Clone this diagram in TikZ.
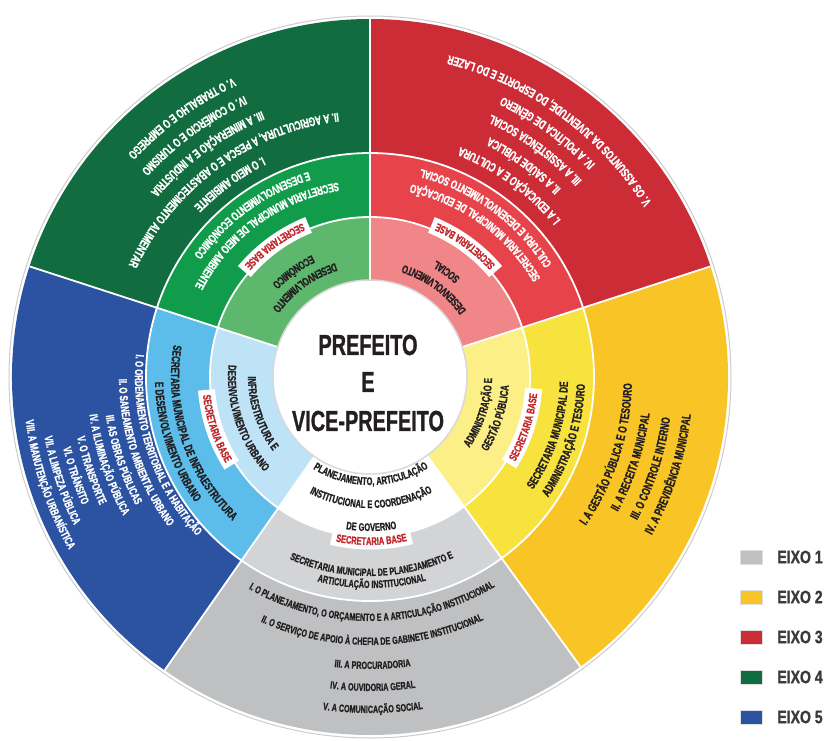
\documentclass[tikz,border=0pt]{standalone}
\usepackage{fontspec}
\usepackage{tikz}
\usetikzlibrary{decorations.text, positioning}
\newfontfamily\cond[FakeStretch=0.685, BoldFeatures={FakeBold=1}]{Liberation Sans}
\newfontfamily\condleg[FakeStretch=0.78, BoldFeatures={FakeBold=1}]{Liberation Sans}

\definecolor{cinzaA}{HTML}{BFC0C2}
\definecolor{cinzaB}{HTML}{D3D4D6}
\definecolor{amareloA}{HTML}{F9C526}
\definecolor{amareloB}{HTML}{F8E23E}
\definecolor{amareloC}{HTML}{FCEF86}
\definecolor{vermelhoA}{HTML}{CC2C36}
\definecolor{vermelhoB}{HTML}{E6434B}
\definecolor{vermelhoC}{HTML}{F08688}
\definecolor{verdeA}{HTML}{116C3F}
\definecolor{verdeB}{HTML}{119C4B}
\definecolor{verdeC}{HTML}{5DB86D}
\definecolor{azulA}{HTML}{2B53A2}
\definecolor{azulB}{HTML}{5CBDEA}
\definecolor{azulC}{HTML}{BEE3F7}
\definecolor{vermelhobase}{HTML}{C1272D}
\definecolor{preto}{HTML}{231F20}
\definecolor{cinzatexto}{HTML}{3A3A3A}

% fatia: cor, angulo inicial, angulo final, raio
\newcommand{\fatia}[4]{\fill[#1] (0,0) -- (#2:#4) arc[start angle=#2, end angle=#3, radius=#4] -- cycle;}
% texto curvo: angulo central, raio, tamanho, cor, texto
\newcommand{\textoarco}[5]{\path[decorate, decoration={text along path, text align=center, text color=#4,
    text={|\cond\bfseries\fontsize{#3}{#3}\selectfont|#5}}] (#1-89:#2) arc[start angle=#1-89, end angle=#1+89, radius=#2];}
% rotulo branco da secretaria base
\newcommand{\rotulobase}[1]{\draw[white, line width=17pt] (#1-14:164) arc[start angle=#1-14, end angle=#1+14, radius=164];
  \textoarco{#1}{168}{11}{vermelhobase}{SECRETARIA BASE}}

\tikzset{
  titulo/.style={font=\cond\bfseries\fontsize{29}{29}\selectfont, text=preto, inner sep=0},
  legcaixa/.style={minimum width=22pt, minimum height=14pt, inner sep=0, draw=black!12},
  legtexto/.style={font=\condleg\bfseries\fontsize{18}{18}\selectfont, text=cinzatexto, inner sep=0}
}

\begin{document}
\begin{tikzpicture}[x=1pt, y=1pt]
  \useasboundingbox (-370,-363) rectangle (458,377);

  % eixos (anel externo)
  \fatia{verdeA}{90}{162}{358}
  \fatia{vermelhoA}{18}{90}{358}
  \fatia{amareloA}{-54}{18}{358}
  \fatia{cinzaA}{-125}{-54}{358}
  \fatia{azulA}{162}{235}{358}
  % secretarias
  \fatia{verdeB}{90}{162}{224}
  \fatia{vermelhoB}{18}{90}{224}
  \fatia{amareloB}{-54}{18}{224}
  \fatia{cinzaB}{-125}{-54}{224}
  \fatia{azulB}{162}{235}{224}
  % areas
  \fatia{verdeC}{90}{162}{160}
  \fatia{vermelhoC}{18}{90}{160}
  \fatia{amareloC}{-54}{18}{160}
  \fatia{white}{-125}{-54}{160}
  \fatia{azulC}{162}{235}{160}

  % divisoes brancas
  \draw[white, line width=1.8pt] (90:97) -- (90:358);
  \draw[white, line width=1.8pt] (18:97) -- (18:358);
  \draw[white, line width=1.8pt] (-54:97) -- (-54:358);
  \draw[white, line width=1.8pt] (-125:97) -- (-125:358);
  \draw[white, line width=1.8pt] (162:97) -- (162:358);
  \draw[white, line width=1.8pt] (0,0) circle[radius=160];
  \draw[white, line width=1.8pt] (0,0) circle[radius=224];
  \draw[gray!40, line width=1pt] (0,0) circle[radius=361];

  % centro
  \node[circle, fill=white, draw=gray!30, line width=1.5pt, minimum size=194pt, inner sep=0] (centro) at (0,0) {};
  \node[titulo] (prefeito) at (-2,32) {PREFEITO};
  \node[titulo] (e) at (-2,-5) {E};
  \node[titulo] (vice) at (-2,-44) {VICE-PREFEITO};

  % rotulos
  \rotulobase{126}
  \rotulobase{54}
  \rotulobase{-18}
  \rotulobase{-89.5}
  \rotulobase{198.5}

  % eixo 4 - verde
  \textoarco{126}{119}{11.5}{preto}{DESENVOLVIMENTO}
  \textoarco{126}{135}{11.5}{preto}{ECONÔMICO}
  \textoarco{126}{197}{12}{white}{SECRETARIA MUNICIPAL DE MEIO AMBIENTE}
  \textoarco{126}{214}{12}{white}{E DESENVOLVIMENTO ECONÔMICO}
  \textoarco{126}{245}{12.5}{white}{I. O MEIO AMBIENTE}
  \textoarco{126}{266}{12.5}{white}{II. A AGRICULTURA, A PESCA E O ABASTECIMENTO ALIMENTAR}
  \textoarco{126}{287}{12.5}{white}{III. A MINERAÇÃO E A INDÚSTRIA}
  \textoarco{126}{308}{12.5}{white}{IV. O COMÉRCIO E O TURISMO}
  \textoarco{126}{329}{12.5}{white}{V. O TRABALHO E O EMPREGO}

  % eixo 3 - vermelho
  \textoarco{54}{117}{11.5}{preto}{DESENVOLVIMENTO}
  \textoarco{54}{134}{11.5}{preto}{SOCIAL}
  \textoarco{54}{197}{12}{white}{SECRETARIA MUNICIPAL DE EDUCAÇÃO}
  \textoarco{54}{214}{12}{white}{CULTURA E DESENVOLVIMENTO SOCIAL}
  \textoarco{54}{247}{12.5}{white}{I. A EDUCAÇÃO E A CULTURA}
  \textoarco{54}{268}{12.5}{white}{II. A SAÚDE PÚBLICA}
  \textoarco{54}{289}{12.5}{white}{III. A ASSISTÊNCIA SOCIAL}
  \textoarco{54}{310}{12.5}{white}{IV. A POLÍTICA DE GÊNERO}
  \textoarco{54}{331}{12.5}{white}{V. OS ASSUNTOS DA JUVENTUDE, DO ESPORTE E DO LAZER}

  % eixo 2 - amarelo
  \textoarco{-18}{122}{11.5}{preto}{ADMINISTRAÇÃO E}
  \textoarco{-18}{139}{11.5}{preto}{GESTÃO PÚBLICA}
  \textoarco{-18}{198}{12}{preto}{SECRETARIA MUNICIPAL DE}
  \textoarco{-18}{215}{12}{preto}{ADMINISTRAÇÃO E TESOURO}
  \textoarco{-18}{262}{12.3}{preto}{I. A GESTÃO PÚBLICA E O TESOURO}
  \textoarco{-18}{282}{12.3}{preto}{II. A RECEITA MUNICIPAL}
  \textoarco{-18}{303}{12.3}{preto}{III. O CONTROLE INTERNO}
  \textoarco{-18}{323}{12.3}{preto}{IV. A PREVIDÊNCIA MUNICIPAL}

  % eixo 1 - cinza
  \textoarco{-89.5}{108}{11}{preto}{PLANEJAMENTO, ARTICULAÇÃO}
  \textoarco{-89.5}{131}{11}{preto}{INSTITUCIONAL E COORDENAÇÃO}
  \textoarco{-89.5}{154}{11}{preto}{DE GOVERNO}
  \textoarco{-89.5}{199}{10.5}{preto}{SECRETARIA MUNICIPAL DE PLANEJAMENTO E}
  \textoarco{-89.5}{211}{10.5}{preto}{ARTICULAÇÃO INSTITUCIONAL}
  \textoarco{-89.5}{244}{10.5}{preto}{I. O PLANEJAMENTO, O ORÇAMENTO E A ARTICULAÇÃO INSTITUCIONAL}
  \textoarco{-89.5}{268}{10.5}{preto}{II. O SERVIÇO DE APOIO À CHEFIA DE GABINETE INSTITUCIONAL}
  \textoarco{-89.5}{292}{10.5}{preto}{III. A PROCURADORIA}
  \textoarco{-89.5}{314}{10.5}{preto}{IV. A OUVIDORIA GERAL}
  \textoarco{-89.5}{336}{10.5}{preto}{V. A COMUNICAÇÃO SOCIAL}

  % eixo 5 - azul
  \textoarco{198.5}{122}{11.5}{preto}{INFRAESTRUTURA E}
  \textoarco{198.5}{142}{11.5}{preto}{DESENVOLVIMENTO URBANO}
  \textoarco{198.5}{199}{12}{preto}{SECRETARIA MUNICIPAL DE INFRAESTRUTURA}
  \textoarco{198.5}{215}{12}{preto}{E DESENVOLVIMENTO URBANO}
  \textoarco{198.5}{235}{11.5}{white}{I. O ORDENAMENTO TERRITORIAL E A HABITAÇÃO}
  \textoarco{198.5}{251}{11.5}{white}{II. O SANEAMENTO AMBIENTAL URBANO}
  \textoarco{198.5}{267}{11.5}{white}{III. AS OBRAS PÚBLICAS}
  \textoarco{198.5}{283}{11.5}{white}{IV. A ILUMINAÇÃO PÚBLICA}
  \textoarco{198.5}{299}{11.5}{white}{V. O TRANSPORTE}
  \textoarco{198.5}{315}{11.5}{white}{VI. O TRÂNSITO}
  \textoarco{198.5}{331}{11.5}{white}{VII. A LIMPEZA PÚBLICA}
  \textoarco{198.5}{347}{11.5}{white}{VIII. A MANUTENÇÃO URBANÍSTICA}

  % legenda
  \node[legcaixa, fill=cinzaA] (leg1) at (381,-180) {};
  \node[legcaixa, fill=amareloA] (leg2) at (381,-220) {};
  \node[legcaixa, fill=vermelhoA] (leg3) at (381,-260) {};
  \node[legcaixa, fill=verdeA] (leg4) at (381,-300) {};
  \node[legcaixa, fill=azulA] (leg5) at (381,-340) {};
  \node[legtexto, right=15pt of leg1] (eixo1) {EIXO 1};
  \node[legtexto, right=15pt of leg2] (eixo2) {EIXO 2};
  \node[legtexto, right=15pt of leg3] (eixo3) {EIXO 3};
  \node[legtexto, right=15pt of leg4] (eixo4) {EIXO 4};
  \node[legtexto, right=15pt of leg5] (eixo5) {EIXO 5};
\end{tikzpicture}
\end{document}
